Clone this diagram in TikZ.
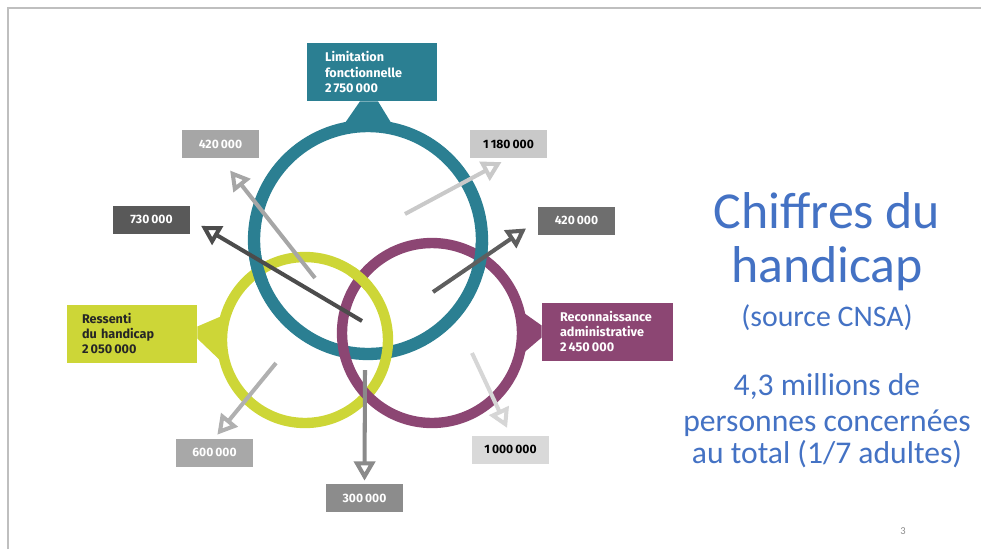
\documentclass[tikz,border=0pt]{standalone}
\usepackage{fontspec}
\setmainfont{Carlito}
\setsansfont{Fira Sans}
\usetikzlibrary{arrows.meta}
\definecolor{limc}{RGB}{43,127,146}
\definecolor{resc}{RGB}{205,214,55}
\definecolor{recc}{RGB}{140,70,115}
\definecolor{titc}{RGB}{68,114,196}

\begin{document}
\begin{tikzpicture}[x=0.02cm, y=-0.02cm,
        ring/.style={circle, draw=#1, line width=5.9pt, inner sep=0pt},
        catbox/.style={fill=#1, text width=1.88cm, inner xsep=0.36cm, minimum height=1.16cm, align=left,
            font=\sffamily\bfseries\fontsize{7.2}{8.6}\selectfont},
        numbox/.style={fill=#1, minimum width=1.54cm, minimum height=0.56cm, inner sep=0pt,
            font=\sffamily\bfseries\fontsize{6.9}{7}\selectfont},
        flow/.style={draw=#1, line width=2.3pt, -{Triangle[open, length=11pt, width=12pt]}},
        title/.style={text=titc, anchor=base, inner sep=0pt}]
                \useasboundingbox (0,0) rectangle (981,549);
                \draw[black!25, line width=1.1pt] (8,549) -- (8,8) -- (981,8);

                % the three rings
                \node[ring=limc, line width=7pt, minimum size=4.56cm] (ringL) at (368,240) {};
                \node[ring=resc, minimum size=3.32cm] (ringR) at (305,340) {};
                \node[ring=recc, minimum size=3.6cm] (ringA) at (432,333) {};
                \draw[limc, line width=7pt] ([shift={(188:2.28cm)}]ringL.center) arc[start angle=188, end angle=202, radius=2.28cm];
                \draw[limc, line width=7pt] ([shift={(-16:2.28cm)}]ringL.center) arc[start angle=-16, end angle=-1, radius=2.28cm];
                \draw[resc, line width=5.9pt] ([shift={(40:1.66cm)}]ringR.center) arc[start angle=40, end angle=56, radius=1.66cm];

                % labels of the rings
                \node[catbox=limc, text=white] (lim) at (372,72) {Limitation\\fonctionnelle\\2\,750\,000};
                \node[catbox=resc, text=black!85, inner xsep=0.3cm, text width=2cm] (ress) at (132,333.5) {Ressenti\\du handicap\\2\,050\,000};
                \node[catbox=recc, text=white, text width=1.9cm] (rec) at (607.5,331.5) {Reconnaissance\\administrative\\2\,450\,000};
                \fill[limc] ([xshift=-0.24cm]lim.south) -- ([xshift=0.12cm]lim.south) -- ([shift={(25,6)}]ringL.north) -- ([shift={(-25,6)}]ringL.north) -- cycle;
                \fill[resc] ([shift={(0,-7)}]ress.east) -- ([shift={(0,5)}]ress.east) -- ([shift={(5,22)}]ringR.west) -- ([shift={(5,-24)}]ringR.west) -- cycle;
                \fill[recc] ([shift={(0,-6)}]rec.west) -- ([shift={(0,6)}]rec.west) -- ([shift={(-6,22)}]ringA.east) -- ([shift={(-6,-22)}]ringA.east) -- cycle;

                % figures of the overlaps
                \foreach \n/\x/\y/\f/\tc/\val in {n420a/220.5/144/black!35/white/420\,000, n730/151.5/219.5/black!65/white/730\,000,
                        n1180/508.5/144/black!21/black/1\,180\,000, n420b/576.5/220.5/black!57/white/420\,000,
                        n600/214.5/452.5/black!34/white/600\,000, n300/364.5/498/black!45/white/300\,000,
                        n1000/510.5/449.5/black!15/black/1\,000\,000} {
                    \node[numbox=\f, text=\tc] (\n) at (\x,\y) {\val};
                }
                \foreach \s/\x/\y in {s420a/315/278, s730/362/321, s1180/405/214, s420b/433/292, s600/276/363, s300/365/370, s1000/472/353} {
                    \coordinate (\s) at (\x,\y);
                }
                \foreach \s/\n/\a/\c/\d in {s420a/n420a/south/black!35/0.31cm, s730/n730/east/black!70/0.25cm,
                        s1180/n1180/south/black!21/0.16cm, s420b/n420b/west/black!63/0.28cm, s600/n600/north/black!31/0.09cm,
                        s300/n300/north/black!46/0.06cm, s1000/n1000/north/black!16/0.16cm} {
                    \draw[flow=\c, shorten >=\d] (\s) -- (\n.\a);
                }

                % title on the right
                \node[title, font=\fontsize{29.5}{30}\selectfont] (chif) at (827,228) {Chiffres du};
                \node[title, font=\fontsize{29.5}{30}\selectfont] (hand) at (827,282) {handicap};
                \node[title, font=\fontsize{17}{18}\selectfont] (src) at (827,326) {(source CNSA)};
                \node[title, font=\fontsize{18}{19}\selectfont] (mil) at (827,395) {4,3 millions de};
                \node[title, font=\fontsize{18}{19}\selectfont] (pers) at (827,431) {personnes concernées};
                \node[title, font=\fontsize{18}{19}\selectfont] (tot) at (827,463) {au total (1/7 adultes)};
                \node[text=black!45, font=\fontsize{6}{7}\selectfont] (pg) at (903,531) {3};
\end{tikzpicture}
\end{document}
